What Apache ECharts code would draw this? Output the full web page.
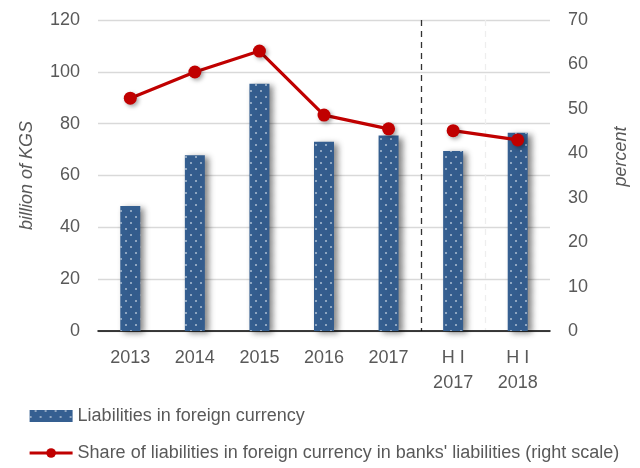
<!DOCTYPE html>
<html>
<head>
<meta charset="UTF-8">
<script src="https://cdn.jsdelivr.net/npm/echarts@6/dist/echarts.min.js"></script>
<style>
  body { margin: 0; background: #fff; }
  #chart { width: 640px; height: 468px; }
</style>
</head>
<body>
<div id="chart"></div>
<script>
// data
const categories = ['2013', '2014', '2015', '2016', '2017', 'H I\n2017', 'H I\n2018'];
const liabilities = [48.2, 67.8, 95.4, 73.0, 75.4, 69.5, 76.5];
const sharePart1 = [52.4, 58.3, 63.0, 48.6, 45.5, '-', '-'];
const sharePart2 = ['-', '-', '-', '-', '-', 45.1, 43.0];

const FONT = '"Liberation Sans Narrow", "Arial Narrow", "Liberation Sans", sans-serif';
const GREY = '#595959';
const RED = '#c00000';
const SHARE_NAME = "Share of liabilities in foreign currency in banks' liabilities (right scale)";
const chart = echarts.init(document.getElementById('chart'));

const lineCommon = {
  type: 'line',
  yAxisIndex: 1,
  symbol: 'circle',
  symbolSize: 13,
  itemStyle: { color: RED, shadowColor: 'rgba(0,0,0,0.35)', shadowBlur: 4, shadowOffsetX: 2, shadowOffsetY: 2 },
  lineStyle: { color: RED, width: 3.2 },
  z: 5
};

chart.setOption({
  animation: false,
  textStyle: { fontFamily: FONT },
  grid: { left: 98, right: 90, top: 20, bottom: 137 },
  legend: {
    orient: 'vertical',
    left: 23,
    top: 402,
    itemGap: 19,
    itemWidth: 43,
    itemHeight: 12,
    textStyle: { fontFamily: FONT, fontSize: 18, color: GREY },
    data: [
      { name: 'Liabilities in foreign currency', icon: 'rect' },
      { name: SHARE_NAME, lineStyle: { width: 3.2 } }
    ]
  },
  xAxis: {
    type: 'category',
    data: categories,
    axisLine: { lineStyle: { color: '#000', width: 1.5 } },
    axisTick: { inside: true, length: 5, lineStyle: { color: '#000', width: 1.5 } },
    axisLabel: { color: GREY, fontSize: 18, margin: 15, lineHeight: 25 },
    splitLine: {
      show: true,
      interval: (i) => i === 5 || i === 6,
      lineStyle: { type: [6, 5], color: ['#333333', '#eeeeee', 'rgba(0,0,0,0)'], width: 1.3 }
    }
  },
  yAxis: [
    {
      type: 'value', min: 0, max: 120, interval: 20,
      name: 'billion of KGS', nameLocation: 'middle', nameGap: 62,
      nameTextStyle: { fontStyle: 'italic', fontSize: 18, color: GREY, fontFamily: FONT },
      axisLabel: { color: GREY, fontSize: 18, margin: 18 },
      axisLine: { show: false }, axisTick: { show: false },
      splitLine: { lineStyle: { color: '#d9d9d9', width: 1.3 } }
    },
    {
      type: 'value', min: 0, max: 70, interval: 10,
      name: 'percent', nameLocation: 'middle', nameGap: 62,
      nameTextStyle: { fontStyle: 'italic', fontSize: 18, color: GREY, fontFamily: FONT, padding: [0, 0, 0, 38] },
      axisLabel: { color: GREY, fontSize: 18, margin: 18 },
      axisLine: { show: false }, axisTick: { show: false },
      splitLine: { show: false }
    }
  ],
  series: [
    {
      name: 'Liabilities in foreign currency',
      type: 'bar',
      data: liabilities,
      barWidth: 20,
      itemStyle: {
        color: '#355f91',
        shadowColor: 'rgba(0,0,0,0.45)', shadowBlur: 6, shadowOffsetX: 4, shadowOffsetY: 2,
        decal: {
          symbol: 'circle',
          symbolSize: 1,
          color: 'rgba(255,255,255,0.6)',
          dashArrayX: [[2, 8], [0, 5, 2, 3]],
          dashArrayY: [2, 3.3],
          rotation: 0
        }
      }
    },
    Object.assign({ name: SHARE_NAME, data: sharePart1 }, lineCommon),
    Object.assign({ name: SHARE_NAME, data: sharePart2 }, lineCommon)
  ]
});
</script>
</body>
</html>
